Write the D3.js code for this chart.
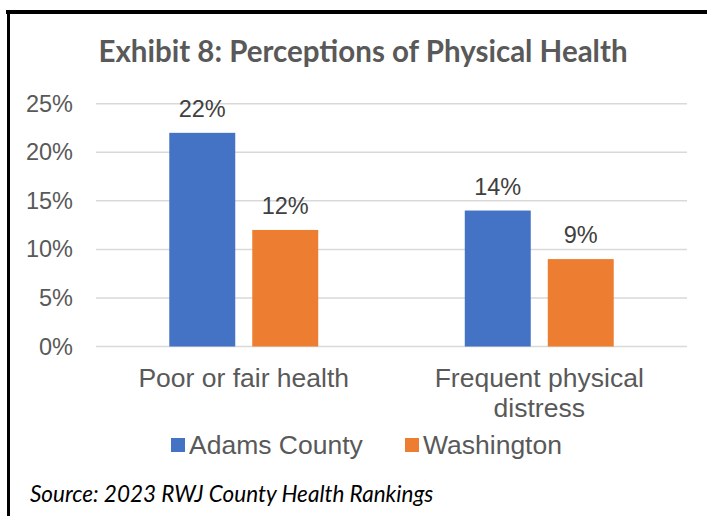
<!DOCTYPE html>
<html><head><meta charset="utf-8">
<script src="https://cdn.jsdelivr.net/npm/d3@7"></script>
<style>body{margin:0;background:#fff}svg{display:block}</style>
</head><body>
<script>
const title = "Exhibit 8: Perceptions of Physical Health";
const categories = ["Poor or fair health", "Frequent physical distress"];
const categoryLines = [["Poor or fair health"], ["Frequent physical", "distress"]];
const seriesNames = ["Adams County", "Washington"];
const adamsCounty = [22, 14];
const washington = [12, 9];
const yTicks = [0, 5, 10, 15, 20, 25];
const source = "Source: 2023 RWJ County Health Rankings";
const colors = ["#4472C4", "#ED7D31"];

(function () {
const W = 707, H = 516;
const svg = d3.select("body").append("svg").attr("width", W).attr("height", H);
svg.append("rect").attr("width", W).attr("height", H).attr("fill", "#fff");
// border (top + left)
svg.append("line").attr("x1", 6).attr("x2", W).attr("y1", 12).attr("y2", 12).attr("stroke", "#000").attr("stroke-width", 4);
svg.append("line").attr("x1", 8.5).attr("x2", 8.5).attr("y1", 10).attr("y2", H).attr("stroke", "#000").attr("stroke-width", 3);

svg.append("text").attr("x", 363).attr("y", 62).attr("text-anchor", "middle")
  .attr("font-family", "Lato, 'Open Sans', sans-serif").attr("font-weight", "bold")
  .attr("font-size", 29.5).attr("fill", "#595959").text(title);

const pl = 96, pr = 687, pt = 103.7, pb = 346.5;
const x0 = d3.scaleBand().domain(categories).range([pl, pr]);
const x1 = d3.scaleBand().domain(seriesNames).range([0, x0.bandwidth()]).paddingInner(0.205).paddingOuter(0.883);
const y = d3.scaleLinear().domain([0, 25]).range([pb, pt]);

const g = svg.append("g");
g.selectAll("line.grid").data(yTicks).join("line").attr("class", "grid")
  .attr("x1", pl).attr("x2", pr).attr("y1", d => y(d)).attr("y2", d => y(d))
  .attr("stroke", "#D9D9D9").attr("stroke-width", 1.5);

const yAxis = d3.axisLeft(y).tickValues(yTicks).tickFormat(d => d + "%").tickSize(0).tickPadding(0);
const ya = svg.append("g").attr("transform", `translate(73,0)`).call(yAxis);
ya.select(".domain").remove();
ya.selectAll("text").attr("font-family", "Arial, 'Liberation Sans', sans-serif").attr("font-size", 23.5).attr("fill", "#595959");

const data = [adamsCounty, washington];
seriesNames.forEach((s, si) => {
  const vals = data[si];
  g.selectAll("rect.s" + si).data(categories).join("rect").attr("class", "s" + si)
    .attr("x", c => x0(c) + x1(s)).attr("width", x1.bandwidth())
    .attr("y", (c, i) => y(vals[i])).attr("height", (c, i) => y(0) - y(vals[i]))
    .attr("fill", colors[si]);
  g.selectAll("text.l" + si).data(categories).join("text").attr("class", "l" + si)
    .attr("x", c => x0(c) + x1(s) + x1.bandwidth() / 2)
    .attr("y", (c, i) => y(vals[i]) - 16)
    .attr("text-anchor", "middle").attr("font-family", "Arial, 'Liberation Sans', sans-serif")
    .attr("font-size", 23.5).attr("fill", "#404040").text((c, i) => vals[i] + "%");
});

// category labels
categories.forEach((c, i) => {
  const t = svg.append("text").attr("text-anchor", "middle")
    .attr("font-family", "Arial, 'Liberation Sans', sans-serif").attr("font-size", 26.5).attr("fill", "#595959");
  categoryLines[i].forEach((ln, li) => {
    t.append("tspan").attr("x", x0(c) + x0.bandwidth() / 2).attr("y", 387 + li * 30).text(ln);
  });
});

// legend
const legX = [171, 405];
seriesNames.forEach((s, i) => {
  svg.append("rect").attr("x", legX[i]).attr("y", 438).attr("width", 14).attr("height", 14).attr("fill", colors[i]);
  svg.append("text").attr("x", legX[i] + 18).attr("y", 454).attr("font-family", "Arial, 'Liberation Sans', sans-serif")
    .attr("font-size", 26.5).attr("fill", "#595959").text(s);
});

svg.append("text").attr("x", 30).attr("y", 502).attr("font-family", "Lato, 'Open Sans', sans-serif")
  .attr("font-style", "italic").attr("font-size", 22.5).attr("fill", "#000").text(source);
})();
</script>
</body></html>
